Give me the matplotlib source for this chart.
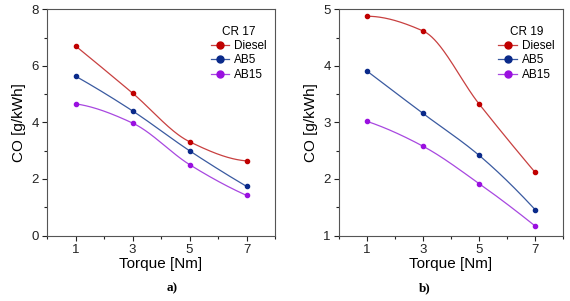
import numpy as np
import matplotlib
matplotlib.use('Agg')
import matplotlib.pyplot as plt
from matplotlib.ticker import MultipleLocator

plt.rcParams['font.family'] = ['Liberation Sans', 'DejaVu Sans']

# Data
torque = [1, 3, 5, 7]

cr17_diesel = [6.71, 5.04, 3.32, 2.64]
cr17_ab5 = [5.64, 4.41, 3.00, 1.74]
cr17_ab15 = [4.66, 3.98, 2.51, 1.42]

cr19_diesel = [4.88, 4.62, 3.33, 2.12]
cr19_ab5 = [3.91, 3.16, 2.42, 1.46]
cr19_ab15 = [3.02, 2.58, 1.92, 1.17]

series_names = ['Diesel', 'AB5', 'AB15']
marker_colors = ['#c00000', '#0a2a8a', '#9a10e0']
line_colors = ['#c84040', '#3a5aa0', '#a848e0']


def pchip(x, y, n=200):
    """Monotone cubic (Fritsch-Carlson) curve through the points, for the smooth line."""
    x = np.asarray(x, float)
    y = np.asarray(y, float)
    h = np.diff(x)
    d = np.diff(y) / h
    k = len(x)
    m = np.zeros(k)
    for i in range(1, k - 1):
        if d[i - 1] * d[i] > 0:
            w1 = 2 * h[i] + h[i - 1]
            w2 = h[i] + 2 * h[i - 1]
            m[i] = (w1 + w2) / (w1 / d[i - 1] + w2 / d[i])
    # end slopes
    def end_slope(h0, h1, d0, d1):
        s = ((2 * h0 + h1) * d0 - h0 * d1) / (h0 + h1)
        if np.sign(s) != np.sign(d0):
            s = 0.0
        elif np.sign(d0) != np.sign(d1) and abs(s) > abs(3 * d0):
            s = 3 * d0
        return s
    m[0] = end_slope(h[0], h[1], d[0], d[1])
    m[-1] = end_slope(h[-1], h[-2], d[-1], d[-2])

    xs = np.linspace(x[0], x[-1], n)
    idx = np.clip(np.searchsorted(x, xs) - 1, 0, k - 2)
    hh = h[idx]
    t = (xs - x[idx]) / hh
    h00 = 2 * t**3 - 3 * t**2 + 1
    h10 = t**3 - 2 * t**2 + t
    h01 = -2 * t**3 + 3 * t**2
    h11 = t**3 - t**2
    ys = h00 * y[idx] + h10 * hh * m[idx] + h01 * y[idx + 1] + h11 * hh * m[idx + 1]
    return xs, ys


def draw_panel(ax, data, title, ylim, ymajor, yminor):
    for vals, name, mc, lc in zip(data, series_names, marker_colors, line_colors):
        xs, ys = pchip(torque, vals)
        ax.plot(xs, ys, color=lc, lw=0.9)
        ax.plot(torque, vals, 'o', color=mc, ms=3)
        # legend proxy
        ax.plot([], [], '-o', color=lc, mfc=mc, mec=mc, ms=5, lw=0.9, label=name)

    ax.set_xlim(0, 8)
    ax.set_ylim(*ylim)
    ax.set_xticks(torque)
    ax.xaxis.set_minor_locator(MultipleLocator(1))
    ax.yaxis.set_major_locator(MultipleLocator(ymajor))
    ax.yaxis.set_minor_locator(MultipleLocator(yminor))
    ax.tick_params(which='both', direction='out', top=False, right=False,
                   labelsize=9.5, colors='#222222', pad=2.5)
    ax.tick_params(which='major', length=3.5, width=0.8)
    ax.tick_params(which='minor', length=2.5, width=0.8)
    for s in ax.spines.values():
        s.set_color('#555555')
        s.set_linewidth(0.8)

    ax.set_xlabel('Torque [Nm]', fontsize=11, labelpad=1)
    ax.set_ylabel('CO [g/kWh]', fontsize=11, labelpad=4)

    ax.legend(title=title, loc='upper right', bbox_to_anchor=(1.0, 0.965),
              frameon=False, fontsize=8.5, title_fontsize=8.5,
              handlelength=1.6, handletextpad=0.4, labelspacing=0.2,
              borderaxespad=0.3)


fig = plt.figure(figsize=(5.7, 3.01), dpi=100)
ax1 = fig.add_axes([0.0825, 0.2176, 0.4, 0.751])
ax2 = fig.add_axes([0.5947, 0.2176, 0.393, 0.751])

draw_panel(ax1, [cr17_diesel, cr17_ab5, cr17_ab15], 'CR 17', (0, 8), 2, 1)
draw_panel(ax2, [cr19_diesel, cr19_ab5, cr19_ab15], 'CR 19', (1, 5), 1, 0.5)

fig.text(0.302, 0.043, 'a)', ha='center', va='center', fontsize=9.5,
         fontweight='bold', family='Liberation Serif')
fig.text(0.746, 0.043, 'b)', ha='center', va='center', fontsize=9.5,
         fontweight='bold', family='Liberation Serif')

fig.savefig('out.png', dpi=100)
